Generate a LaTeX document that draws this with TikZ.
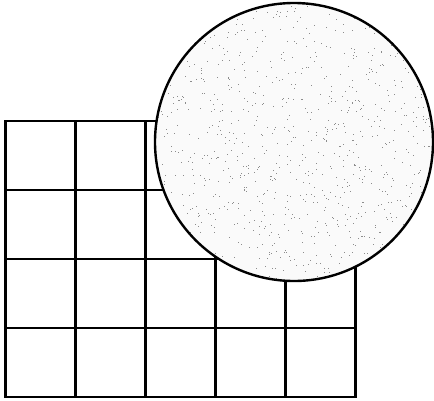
\documentclass[tikz,border=0pt]{standalone}
\begin{document}
\begin{tikzpicture}[x=1pt,y=-1pt,
  gridline/.style={line width=2.6pt,line cap=rect},
  disc/.style={line width=2.4pt}]
\useasboundingbox (0,0) rectangle (434,400);
% grid 5 x 4
\foreach \i in {0,...,5}
  \draw[gridline] ({5.5+70*\i},121) -- ({5.5+70*\i},397);
\foreach \j in {0,...,4}
  \draw[gridline] (5.5,{121+69*\j}) -- (355.5,{121+69*\j});
% stippled circle
\coordinate (c) at (294,142);
\fill[black!2] (c) circle[radius=139];
\begin{scope}
  \clip (c) circle[radius=138];
  \pgfmathsetseed{7}
  \foreach \k in {1,...,1000}{
    \pgfmathsetmacro{\px}{294+139*rand}
    \pgfmathsetmacro{\py}{142+139*rand}
    \fill[black!45] (\px,\py) rectangle ++(1,1);
  }
\end{scope}
\draw[disc] (c) circle[radius=139];
\end{tikzpicture}
\end{document}
